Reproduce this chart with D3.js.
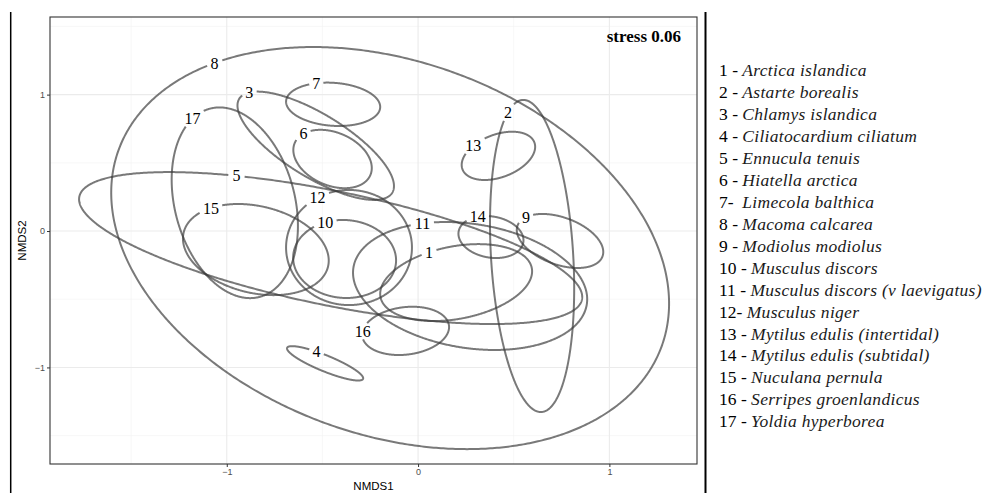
<!DOCTYPE html>
<html>
<head>
<meta charset="utf-8">
<script src="https://cdn.jsdelivr.net/npm/d3@7"></script>
<style>
  html, body { margin: 0; padding: 0; background: #fff; }
  svg { display: block; }
</style>
</head>
<body>
<svg id="chart" width="989" height="493"></svg>
<script>
// ---------------- data ----------------
const ids = [1, 2, 3, 4, 5, 6, 7, 8, 9, 10, 11, 12, 13, 14, 15, 16, 17];
const legendNums = ["1 - ", "2 - ", "3 - ", "4 - ", "5 - ", "6 - ", "7-  ", "8 - ", "9 - ",
  "10 - ", "11 - ", "12- ", "13 - ", "14 - ", "15 - ", "16 - ", "17 - "];
const species = ["Arctica islandica", "Astarte borealis", "Chlamys islandica", "Ciliatocardium ciliatum",
  "Ennucula tenuis", "Hiatella arctica", "Limecola balthica", "Macoma calcarea", "Modiolus modiolus",
  "Musculus discors", "Musculus discors (v laevigatus)", "Musculus niger", "Mytilus edulis (intertidal)",
  "Mytilus edulis (subtidal)", "Nuculana pernula", "Serripes groenlandicus", "Yoldia hyperborea"];
// ellipse centres (NMDS units)
const centerX = [0.199, 0.596, -0.535, -0.486, -0.457, -0.447, -0.444, -0.146, 0.742, -0.384, 0.272, -0.361, 0.420, 0.381, -0.848, -0.065, -0.958];
const centerY = [-0.378, -0.183, 0.625, -0.970, -0.125, 0.528, 0.929, -0.125, -0.073, -0.205, -0.403, -0.121, 0.551, -0.044, -0.136, -0.732, 0.207];
// half extents along NMDS1 / NMDS2
const halfX = [0.397, 0.220, 0.409, 0.199, 1.315, 0.205, 0.246, 1.458, 0.226, 0.269, 0.612, 0.329, 0.192, 0.170, 0.381, 0.227, 0.330];
const halfY = [0.282, 1.144, 0.397, 0.126, 0.557, 0.214, 0.159, 1.474, 0.198, 0.286, 0.469, 0.422, 0.177, 0.154, 0.334, 0.177, 0.699];
// phase between NMDS1 and NMDS2 components (degrees) -> tilt
const phase = [73, 102, 138, 150, 130, 108, 97, 106, 114, 92, 102, 90, 68, 99, 104, 81, 104];
// angle on ellipse where label sits (degrees)
const labelAt = [111, 125, 148, 103, 112, 138, 111, 129, 142, 112, 114, 120, 133, 114, 128, 172, 132];
const xTicks = [-1, 0, 1];
const yTicks = [-1, 0, 1];
const xMinor = [-1.5, -0.5, 0.5, 1.5];
const yMinor = [-1.5, -0.5, 0.5, 1.5];
const stressLabel = "stress 0.06";

// ---------------- layout ----------------
const svg = d3.select("#chart");
const panel = { left: 50, right: 697, top: 17, bottom: 464 };
const x = d3.scaleLinear().domain([-1.924, 1.458]).range([panel.left, panel.right]);
const y = d3.scaleLinear().domain([-1.708, 1.569]).range([panel.bottom, panel.top]);

svg.append("rect").attr("width", 989).attr("height", 493).attr("fill", "#fff");

// outer separators
svg.append("line").attr("x1", 10.7).attr("x2", 10.7).attr("y1", 12).attr("y2", 493)
  .attr("stroke", "#000").attr("stroke-width", 1.5);
svg.append("line").attr("x1", 705.5).attr("x2", 705.5).attr("y1", 12).attr("y2", 493)
  .attr("stroke", "#000").attr("stroke-width", 2);

// grid
const grid = svg.append("g");
grid.selectAll(".mx").data(xMinor.filter(v => x(v) > panel.left && x(v) < panel.right)).join("line")
  .attr("x1", d => x(d)).attr("x2", d => x(d)).attr("y1", panel.top).attr("y2", panel.bottom)
  .attr("stroke", "#f2f2f2").attr("stroke-width", 0.6);
grid.selectAll(".my").data(yMinor.filter(v => y(v) > panel.top && y(v) < panel.bottom)).join("line")
  .attr("y1", d => y(d)).attr("y2", d => y(d)).attr("x1", panel.left).attr("x2", panel.right)
  .attr("stroke", "#f2f2f2").attr("stroke-width", 0.6);
grid.selectAll(".Mx").data(xTicks).join("line")
  .attr("x1", d => x(d)).attr("x2", d => x(d)).attr("y1", panel.top).attr("y2", panel.bottom)
  .attr("stroke", "#ebebeb").attr("stroke-width", 1.1);
grid.selectAll(".My").data(yTicks).join("line")
  .attr("y1", d => y(d)).attr("y2", d => y(d)).attr("x1", panel.left).attr("x2", panel.right)
  .attr("stroke", "#ebebeb").attr("stroke-width", 1.1);

// axes
const fmt = d => d < 0 ? "\u2212" + Math.abs(d) : String(d);
const xAxis = svg.append("g").attr("transform", `translate(0,${panel.bottom})`)
  .call(d3.axisBottom(x).tickValues(xTicks).tickFormat(fmt).tickSize(3).tickPadding(2));
const yAxis = svg.append("g").attr("transform", `translate(${panel.left},0)`)
  .call(d3.axisLeft(y).tickValues(yTicks).tickFormat(fmt).tickSize(3).tickPadding(2));
[xAxis, yAxis].forEach(g => {
  g.select(".domain").remove();
  g.selectAll(".tick line").attr("stroke", "#333").attr("stroke-width", 1);
  g.selectAll(".tick text").attr("fill", "#4d4d4d").attr("font-size", 9)
    .attr("font-family", "Liberation Sans, Arial, sans-serif");
});

svg.append("text").attr("x", (panel.left + panel.right) / 2).attr("y", 490)
  .attr("text-anchor", "middle").attr("font-size", 11.5).attr("font-family", "Liberation Sans, Arial, sans-serif")
  .attr("fill", "#000").text("NMDS1");
svg.append("text").attr("transform", `translate(26,${(panel.top + panel.bottom) / 2}) rotate(-90)`)
  .attr("text-anchor", "middle").attr("font-size", 11.5).attr("font-family", "Liberation Sans, Arial, sans-serif")
  .attr("fill", "#000").text("NMDS2");

// ellipses
const rad = Math.PI / 180;
svg.append("clipPath").attr("id", "pclip").append("rect")
  .attr("x", panel.left).attr("y", panel.top).attr("width", panel.right - panel.left).attr("height", panel.bottom - panel.top);
const eg = svg.append("g").attr("clip-path", "url(#pclip)");
const lg = svg.append("g");
const labelFont = "Liberation Serif, Times New Roman, serif";

ids.forEach((id, i) => {
  const pt = t => [centerX[i] + halfX[i] * Math.cos(t * rad), centerY[i] + halfY[i] * Math.cos((t - phase[i]) * rad)];
  const lp = pt(labelAt[i]);
  const lx = x(lp[0]), ly = y(lp[1]);
  const label = String(id);
  const hw = label.length * 4 + 3;
  const pts = d3.range(0, 360.5, 0.5).map(t => pt(t));
  const line = d3.line()
    .x(d => x(d[0])).y(d => y(d[1]))
    .defined(d => !(Math.abs(x(d[0]) - lx) < hw && Math.abs(y(d[1]) - ly) < 8));
  eg.append("path").attr("d", line(pts)).attr("fill", "none")
    .attr("stroke", "#3a3a3a").attr("stroke-opacity", 0.68).attr("stroke-width", 2);
  lg.append("text").attr("x", lx).attr("y", ly).attr("dy", "0.35em").attr("text-anchor", "middle")
    .attr("font-family", labelFont).attr("font-size", 16).attr("fill", "#000").text(label);
});

// panel border
svg.append("rect").attr("x", panel.left).attr("y", panel.top)
  .attr("width", panel.right - panel.left).attr("height", panel.bottom - panel.top)
  .attr("fill", "none").attr("stroke", "#333").attr("stroke-width", 1.1);

// stress label
svg.append("text").attr("x", 681).attr("y", 42).attr("text-anchor", "end")
  .attr("font-family", labelFont).attr("font-weight", "bold").attr("font-size", 17).attr("fill", "#000")
  .text(stressLabel);

// legend
const leg = svg.append("g");
ids.forEach((id, i) => {
  const t = leg.append("text").attr("x", 719).attr("y", 76 + i * 21.96)
    .attr("font-family", labelFont).attr("font-size", 17.5).attr("fill", "#000")
    .style("white-space", "pre");
  t.append("tspan").text(legendNums[i]);
  t.append("tspan").attr("font-style", "italic").attr("fill", "#1a1a1a")
    .attr("letter-spacing", 0.3).text(species[i]);
});
</script>
</body>
</html>
